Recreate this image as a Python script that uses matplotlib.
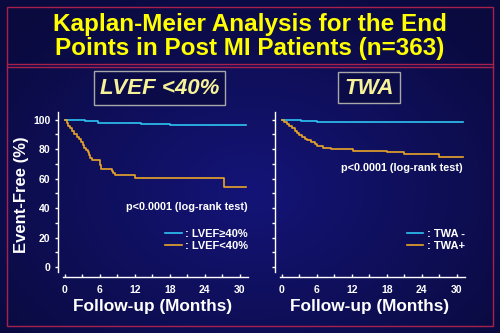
import numpy as np
import matplotlib
matplotlib.use('Agg')
import matplotlib.pyplot as plt
from matplotlib.patches import Rectangle

plt.rcParams['font.family'] = ['Liberation Sans', 'DejaVu Sans']

# Kaplan-Meier step curves (months, % event-free)
lvef_hi_t = [0, 0.4, 3.4, 5.7, 13, 18, 31]
lvef_hi_s = [100, 99.6, 99.0, 97.7, 97.0, 96.1, 96.1]

lvef_lo_t = [0, 0.3, 0.6, 0.9, 1.2, 1.5, 2.0, 2.4, 2.8, 3.1, 3.3, 3.6, 3.9, 4.1, 4.3, 4.6,
             6.0, 6.2, 8.0, 8.3, 8.6, 12.0, 27.2, 31]
lvef_lo_s = [100, 98, 96, 94, 92, 90, 88.5, 87, 85, 83, 81, 79.5, 78, 76, 74, 72.5,
             69, 66.5, 65, 63.5, 62.5, 60.3, 54.3, 54.3]

twa_neg_t = [0, 2.5, 3.2, 6.0, 31]
twa_neg_s = [100, 99.6, 99.2, 98.3, 98.3]

twa_pos_t = [0, 0.4, 0.8, 1.2, 1.7, 2.2, 2.6, 3.0, 3.4, 3.9, 4.3, 5.0, 5.6, 6.0, 7.0,
             8.4, 12.2, 18.0, 21.0, 27.0, 31]
twa_pos_s = [100, 98.5, 97, 95.5, 94, 92.5, 91, 89.5, 88, 87, 86, 84.5, 83.2, 82, 81,
             80.2, 78.8, 77.8, 77.0, 74.7, 74.7]

x_ticks = [0, 6, 12, 18, 24, 30]
y_ticks = [0, 20, 40, 60, 80, 100]

CYAN = '#2ec4f2'
ORANGE = '#e9a52a'
RED = '#a8204c'
YEL = '#ffff00'
PALE = '#f6f29a'

W, H = 500, 333
fig = plt.figure(figsize=(5, 3.33), dpi=100)

# background: dark navy, lighter toward the middle
bg = fig.add_axes([0, 0, 1, 1], zorder=-10)
yy, xx = np.mgrid[0:H, 0:W]
r = np.sqrt(((xx - 250) / 330.0) ** 2 + ((yy - 190) / 240.0) ** 2)
r = np.clip(r, 0, 1)
c0 = np.array([20, 20, 120]) / 255.0
c1 = np.array([10, 10, 62]) / 255.0
img = c0[None, None, :] * (1 - r[..., None]) + c1[None, None, :] * r[..., None]
img[:65] = img[:65] * 0.7 + c1 * 0.3
bg.imshow(img, extent=[0, W, H, 0], aspect='auto')
bg.set_xlim(0, W)
bg.set_ylim(H, 0)
bg.axis('off')

# red frame
bg.add_patch(Rectangle((7, 7), 486, 319, fill=False, ec=RED, lw=1.0))
bg.plot([7, 493], [64, 64], color=RED, lw=1.0)
bg.plot([7, 493], [67, 67], color=RED, lw=1.0)

fig.text(0.5, 1 - 25 / H, 'Kaplan-Meier Analysis for the End', ha='center', va='center',
         color=YEL, fontsize=17.5, fontweight='bold')
fig.text(0.5, 1 - 48 / H, 'Points in Post MI Patients (n=363)', ha='center', va='center',
         color=YEL, fontsize=17.5, fontweight='bold')

# panel headers in grey boxes
bg.add_patch(Rectangle((94, 71), 131, 34, fill=True, fc='#0b0b48', ec='#a8a8a8', lw=1.0))
bg.text(159.5, 88.5, 'LVEF <40%', ha='center', va='center', color=PALE,
        fontsize=16, fontstyle='italic', fontweight='bold')
bg.add_patch(Rectangle((338, 72), 62, 31, fill=True, fc='#0b0b48', ec='#a8a8a8', lw=1.0))
bg.text(369, 88, 'TWA', ha='center', va='center', color=PALE,
        fontsize=16, fontstyle='italic', fontweight='bold')


def style_axes(ax, show_ylabels):
    ax.set_facecolor('none')
    ax.set_xlim(-1.2, 31.4)
    ax.set_ylim(-6.8, 105.4)
    for s in ['top', 'right']:
        ax.spines[s].set_visible(False)
    for s in ['left', 'bottom']:
        ax.spines[s].set_color('white')
        ax.spines[s].set_linewidth(1.0)
    ax.spines['bottom'].set_bounds(-0.3, 31.4)
    ax.spines['left'].set_bounds(-3.5, 105.4)
    ax.set_xticks(x_ticks)
    ax.set_xticks([3, 9, 15, 21, 27], minor=True)
    ax.set_yticks(y_ticks)
    ax.set_yticks([10, 30, 50, 70, 90], minor=True)
    ax.tick_params(axis='x', which='both', direction='in', length=2.5, width=1, color='white',
                   labelcolor='white', labelsize=7.5, pad=6)
    ax.tick_params(axis='y', which='both', direction='out', length=2.5, width=1, color='white',
                   labelcolor='white', labelsize=7.5, pad=3)
    for lab in ax.get_xticklabels() + ax.get_yticklabels():
        lab.set_fontweight('bold')
    if not show_ylabels:
        ax.set_yticklabels([])
    ax.set_xlabel('Follow-up (Months)', color='white', fontsize=12.4, fontweight='bold', labelpad=3)


def add_legend(ax):
    leg = ax.legend(loc='upper right', bbox_to_anchor=(1.055, 0.35), frameon=False,
                    handlelength=1.5, handletextpad=0.35, labelspacing=0.15,
                    prop={'size': 8, 'weight': 'bold'})
    for t in leg.get_texts():
        t.set_color('white')


ax1 = fig.add_axes([58 / W, 1 - 277 / H, 190 / W, 165.3 / H])
ax1.step(lvef_hi_t, lvef_hi_s, where='post', color=CYAN, lw=1.2, label=': LVEF\u226540%')
ax1.step(lvef_lo_t, lvef_lo_s, where='post', color=ORANGE, lw=1.2, label=': LVEF<40%')
style_axes(ax1, True)
ax1.set_ylabel('Event-Free (%)', color='white', fontsize=12, fontweight='bold', labelpad=3)
ax1.text(31.4, 41, 'p<0.0001 (log-rank test)', ha='right', va='center', color='white',
         fontsize=7.8, fontweight='bold')
add_legend(ax1)

ax2 = fig.add_axes([275 / W, 1 - 277 / H, 190 / W, 165.3 / H])
ax2.step(twa_neg_t, twa_neg_s, where='post', color=CYAN, lw=1.2, label=': TWA -')
ax2.step(twa_pos_t, twa_pos_s, where='post', color=ORANGE, lw=1.2, label=': TWA+')
style_axes(ax2, False)
ax2.text(31.0, 67.5, 'p<0.0001 (log-rank test)', ha='right', va='center', color='white',
         fontsize=7.8, fontweight='bold')
add_legend(ax2)

fig.savefig('out.png', dpi=100, facecolor='#0a0a40')
